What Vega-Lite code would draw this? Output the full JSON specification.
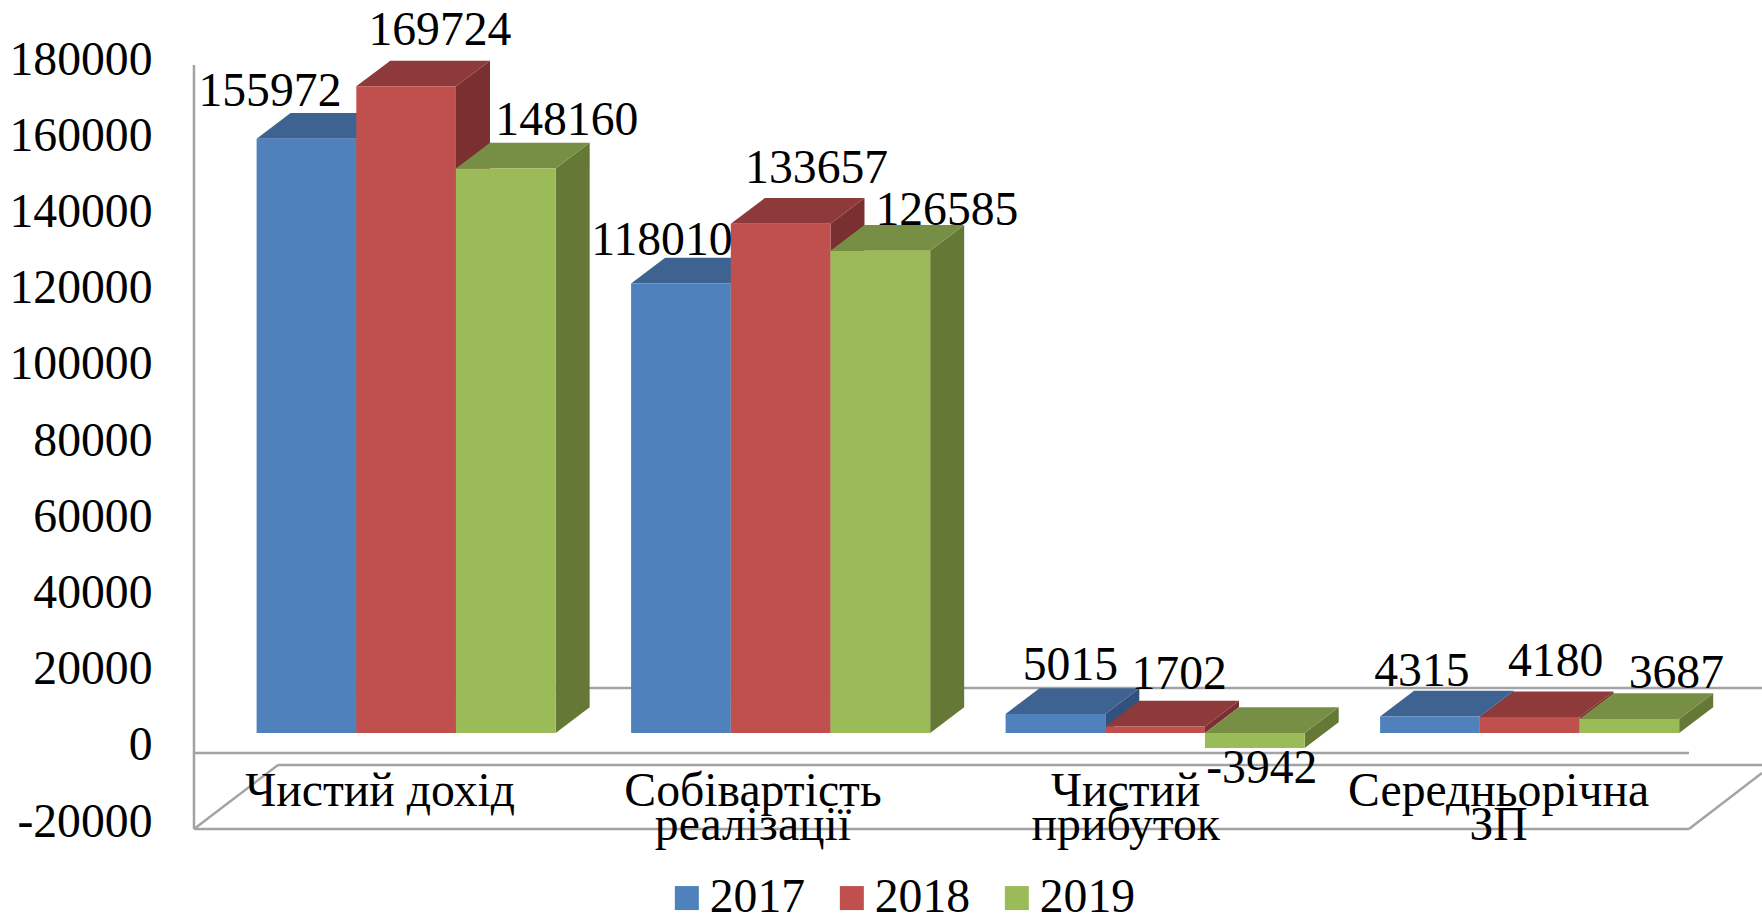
{
"$schema":"https://vega.github.io/schema/vega-lite/v6.json",
"width":1568,"height":915,
"autosize":{"type":"none"},
"padding":{"left":194,"top":0,"right":0,"bottom":0},
"background":"white",
"config":{"view":{"stroke":null},"text":{"font":"Liberation Serif","fontSize":47.7,"color":"black"}},
"datasets":{
"bars":[
{"category":"Чистий дохід","year":2017,"value":155972},
{"category":"Чистий дохід","year":2018,"value":169724},
{"category":"Чистий дохід","year":2019,"value":148160},
{"category":"Собівартість реалізації","year":2017,"value":118010},
{"category":"Собівартість реалізації","year":2018,"value":133657},
{"category":"Собівартість реалізації","year":2019,"value":126585},
{"category":"Чистий прибуток","year":2017,"value":5015},
{"category":"Чистий прибуток","year":2018,"value":1702},
{"category":"Чистий прибуток","year":2019,"value":-3942},
{"category":"Середньорічна ЗП","year":2017,"value":4315},
{"category":"Середньорічна ЗП","year":2018,"value":4180},
{"category":"Середньорічна ЗП","year":2019,"value":3687}
],
"frame":[
{"x":-0.1672,"x2":-0.1672,"y":175328,"y2":-25197},
{"x":-0.1672,"x2":3.8248,"y":-5249,"y2":-5249},
{"x":0.0571,"x2":4.0198,"y":-8399,"y2":-8399},
{"x":-0.1672,"x2":3.8248,"y":-25197,"y2":-25197},
{"x":3.8248,"x2":4.0198,"y":-25197,"y2":-10499},
{"x":-0.1672,"x2":0.0571,"y":-25197,"y2":-8399},
{"x":0.0571,"x2":4.0198,"y":11811,"y2":11811}
],
"cats":[
{"index":0,"label":"Чистий дохід"},
{"index":1,"label":"Собівартість\nреалізації"},
{"index":2,"label":"Чистий\nприбуток"},
{"index":3,"label":"Середньорічна\nЗП"}
]},
"data":{"name":"bars"},
"transform":[
{"calculate":"indexof(['Чистий дохід','Собівартість реалізації','Чистий прибуток','Середньорічна ЗП'],datum.category)","as":"c"},
{"calculate":"datum.c+(datum.year-2017)*0.2662","as":"left"},
{"calculate":"datum.left+0.2662","as":"right"},
{"calculate":"max(datum.value,0)","as":"top"},
{"calculate":"min(datum.value,0)","as":"bottom"},
{"calculate":"datum.left+0.1331","as":"x"},
{"calculate":"datum.value","as":"y"}
],
"encoding":{
"x":{"field":"x","type":"quantitative","axis":null,"scale":{"domain":[-0.16716,4.0198],"nice":false,"zero":false}},
"y":{"field":"y","type":"quantitative","scale":{"domain":[-47769,192388],"nice":false,"zero":false},
"axis":{"title":null,"values":[-20000,0,20000,40000,60000,80000,100000,120000,140000,160000,180000],"labelExpr":"''+datum.value","grid":false,"domain":false,"ticks":false,"labelPadding":42,"labelOffset":13,"labelFont":"Liberation Serif","labelFontSize":47.7,"labelColor":"black"}}
},
"layer":[
{"data":{"name":"frame"},"transform":[],"mark":{"type":"rule","color":"#a3a3a3","strokeWidth":2.5},
"encoding":{"x2":{"field":"x2"},"y2":{"field":"y2"}}},
{"transform":[{"calculate":"[0,1]","as":"depth"},{"flatten":["depth"]},
{"calculate":"datum.right+datum.depth*0.0908","as":"x"},
{"calculate":"datum.top+datum.depth*6745","as":"y"},
{"calculate":"datum.bottom+datum.depth*6745","as":"y2"}],
"mark":{"type":"area"},
"encoding":{"y2":{"field":"y2"},"detail":{"field":"category"},
"color":{"field":"year","type":"nominal","legend":null,"scale":{"domain":[2017,2018,2019],"range":["#30527c","#7a3030","#657836"]}}}},
{"transform":[{"calculate":"[0,1]","as":"depth"},{"flatten":["depth"]},
{"calculate":"datum.left+datum.depth*0.0908","as":"x"},
{"calculate":"datum.right+datum.depth*0.0908","as":"x2"},
{"calculate":"datum.top+datum.depth*6745","as":"y"}],
"mark":{"type":"area","orient":"horizontal"},
"encoding":{"x2":{"field":"x2"},"detail":{"field":"category"},
"color":{"field":"year","type":"nominal","legend":null,"scale":{"domain":[2017,2018,2019],"range":["#3f6391","#8e3a3a","#778f45"]}}}},
{"transform":[{"calculate":"datum.left","as":"x"},{"calculate":"datum.right","as":"x2"},{"calculate":"datum.top","as":"y"},{"calculate":"datum.bottom","as":"y2"}],
"mark":{"type":"rect"},
"encoding":{"x2":{"field":"x2"},"y2":{"field":"y2"},
"color":{"field":"year","type":"nominal","scale":{"domain":[2017,2018,2019],"range":["#4f81bd","#c0504d","#9bbb59"]},
"legend":{"title":null,"orient":"none","legendX":469,"legendY":874,"direction":"horizontal","symbolType":"square","symbolSize":576,"symbolStrokeWidth":0,"labelFont":"Liberation Serif","labelFontSize":47.7,"labelColor":"black","labelOffset":-1,"columnPadding":22,"labelLimit":300}}}},
{"data":{"name":"cats"},"transform":[{"calculate":"datum.index*0.9955+0.33","as":"x"},{"calculate":"-9186","as":"y"}],
"mark":{"type":"text","baseline":"top","align":"center","lineBreak":"\n","lineHeight":34},
"encoding":{"text":{"field":"label","type":"nominal"}}},
{"transform":[{"filter":"datum.value===155972"}],"mark":{"type":"text","dx":-36.5,"dy":-47},"encoding":{"text":{"field":"value","type":"nominal"}}},
{"transform":[{"filter":"datum.value===169724"}],"mark":{"type":"text","dx":33.8,"dy":-55},"encoding":{"text":{"field":"value","type":"nominal"}}},
{"transform":[{"filter":"datum.value===148160"}],"mark":{"type":"text","dx":61,"dy":-47.5},"encoding":{"text":{"field":"value","type":"nominal"}}},
{"transform":[{"filter":"datum.value===118010"}],"mark":{"type":"text","dx":-19,"dy":-42},"encoding":{"text":{"field":"value","type":"nominal"}}},
{"transform":[{"filter":"datum.value===133657"}],"mark":{"type":"text","dx":36,"dy":-55},"encoding":{"text":{"field":"value","type":"nominal"}}},
{"transform":[{"filter":"datum.value===126585"}],"mark":{"type":"text","dx":66.6,"dy":-40},"encoding":{"text":{"field":"value","type":"nominal"}}},
{"transform":[{"filter":"datum.value===5015"}],"mark":{"type":"text","dx":15,"dy":-48},"encoding":{"text":{"field":"value","type":"nominal"}}},
{"transform":[{"filter":"datum.value===1702"}],"mark":{"type":"text","dx":24,"dy":-51.5},"encoding":{"text":{"field":"value","type":"nominal"}}},
{"transform":[{"filter":"datum.value===-3942"}],"mark":{"type":"text","dx":7,"dy":21},"encoding":{"text":{"field":"value","type":"nominal"}}},
{"transform":[{"filter":"datum.value===4315"}],"mark":{"type":"text","dx":-8,"dy":-44.6},"encoding":{"text":{"field":"value","type":"nominal"}}},
{"transform":[{"filter":"datum.value===4180"}],"mark":{"type":"text","dx":26,"dy":-55},"encoding":{"text":{"field":"value","type":"nominal"}}},
{"transform":[{"filter":"datum.value===3687"}],"mark":{"type":"text","dx":47,"dy":-45},"encoding":{"text":{"field":"value","type":"nominal"}}}
],
"resolve":{"scale":{"color":"independent"}}
}
